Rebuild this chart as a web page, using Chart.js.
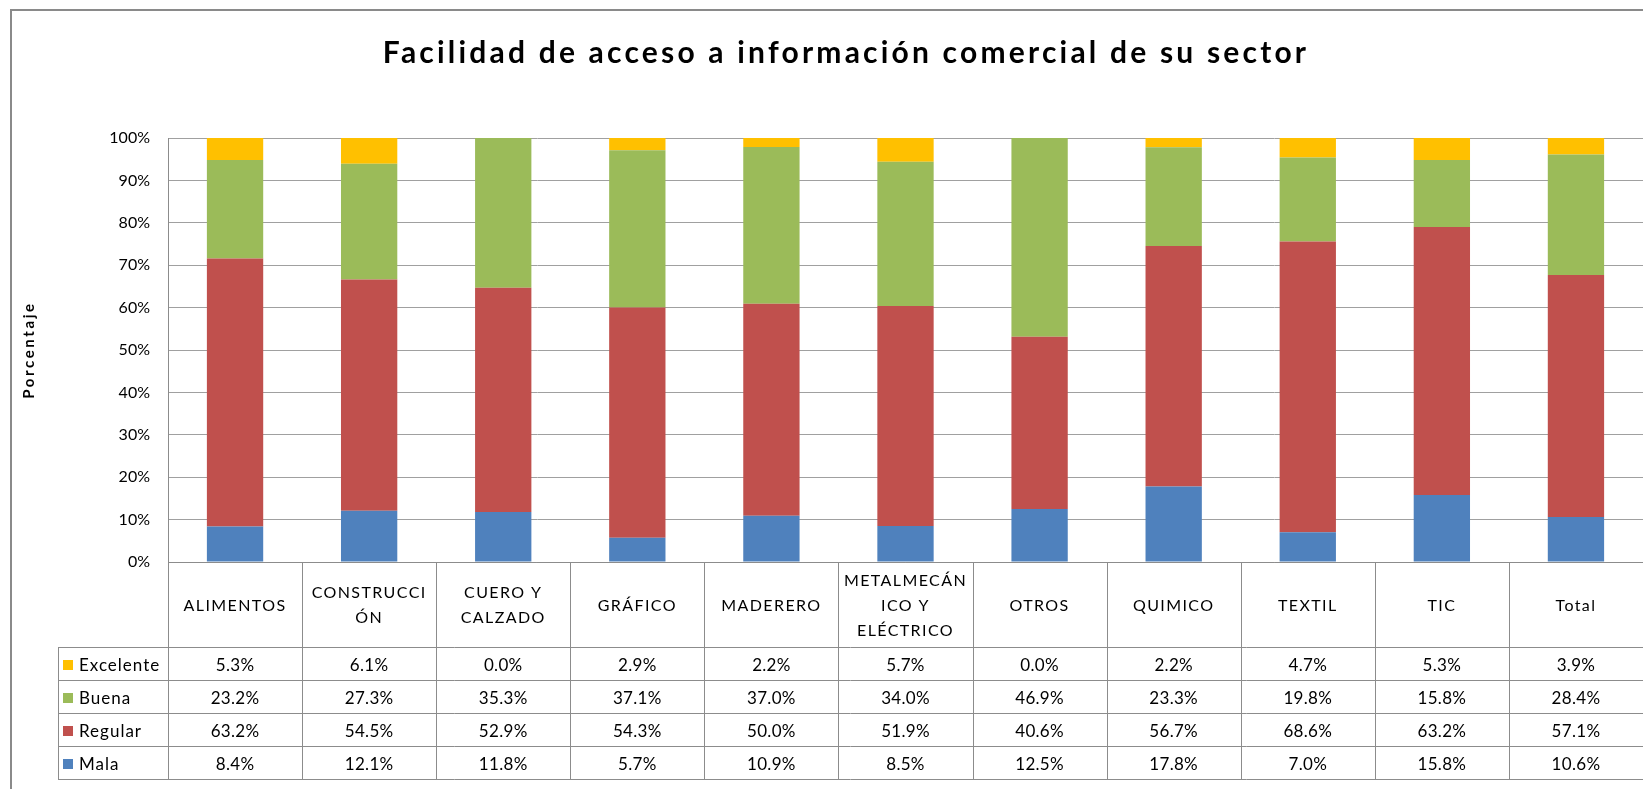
<!DOCTYPE html>
<html>
<head>
<meta charset="utf-8">
<script src="https://cdn.jsdelivr.net/npm/chart.js@4.4.1/dist/chart.umd.min.js"></script>
<style>
  html, body { margin: 0; padding: 0; background: #fff; }
  #wrap { position: relative; width: 1643px; height: 789px; }
</style>
</head>
<body>
<div id="wrap"><canvas id="sectorChart" width="1643" height="789"></canvas></div>
<script>
const chartTitle = 'Facilidad de acceso a información comercial de su sector';
const yAxisTitle = 'Porcentaje';

// category labels, wrapped the way the data table shows them
const categories = [
    ['ALIMENTOS'], ['CONSTRUCCI', 'ÓN'], ['CUERO Y', 'CALZADO'], ['GRÁFICO'], ['MADERERO'],
    ['METALMECÁN', 'ICO Y', 'ELÉCTRICO'], ['OTROS'], ['QUIMICO'], ['TEXTIL'], ['TIC'], ['Total']
];

const mala      = [8.4, 12.1, 11.8, 5.7, 10.9, 8.5, 12.5, 17.8, 7.0, 15.8, 10.6];
const regular   = [63.2, 54.5, 52.9, 54.3, 50.0, 51.9, 40.6, 56.7, 68.6, 63.2, 57.1];
const buena     = [23.2, 27.3, 35.3, 37.1, 37.0, 34.0, 46.9, 23.3, 19.8, 15.8, 28.4];
const excelente = [5.3, 6.1, 0.0, 2.9, 2.2, 5.7, 0.0, 2.2, 4.7, 5.3, 3.9];

const yTicks = [0, 10, 20, 30, 40, 50, 60, 70, 80, 90, 100];

const lineColor = '#8c8c8c';
const font = 'Lato';

// title, axis title, frame and the data table under the plot
const tablePlugin = {
    id: 'excelTable',
    afterDraw(chart) {
        const ctx = chart.ctx;
        const area = chart.chartArea;
        const x = chart.scales.x;
        const n = categories.length;
        const colW = x.getPixelForValue(1) - x.getPixelForValue(0);
        const headerH = 85;
        const rowH = 33;
        const keyLeft = 58;
        const rows = chart.data.datasets.slice().reverse();
        const headerBottom = area.bottom + headerH;
        const tableBottom = headerBottom + rowH * rows.length;

        ctx.save();

        // outer frame of the chart object
        ctx.strokeStyle = '#8a8a8a';
        ctx.lineWidth = 2;
        ctx.beginPath();
        ctx.moveTo(11, chart.height);
        ctx.lineTo(11, 10);
        ctx.lineTo(chart.width, 10);
        ctx.stroke();

        // title
        ctx.fillStyle = '#000';
        ctx.font = 'bold 30px ' + font;
        ctx.letterSpacing = '3.2px';
        ctx.textAlign = 'center';
        ctx.textBaseline = 'alphabetic';
        ctx.fillText(chartTitle, 846, 63);

        // y axis title
        ctx.save();
        ctx.translate(29, (area.top + area.bottom) / 2);
        ctx.rotate(-Math.PI / 2);
        ctx.font = 'bold 15px ' + font;
        ctx.letterSpacing = '2.6px';
        ctx.textBaseline = 'middle';
        ctx.fillText(yAxisTitle, 0, 0);
        ctx.restore();

        // table grid
        ctx.strokeStyle = lineColor;
        ctx.lineWidth = 1;
        ctx.beginPath();
        for (let i = 0; i <= n; i++) {
            const cx = Math.round(area.left + i * colW) + 0.5;
            ctx.moveTo(cx, area.bottom);
            ctx.lineTo(cx, tableBottom);
        }
        ctx.moveTo(keyLeft + 0.5, headerBottom);
        ctx.lineTo(keyLeft + 0.5, tableBottom);
        for (let r = 0; r <= rows.length; r++) {
            const ry = Math.round(headerBottom + r * rowH) + 0.5;
            ctx.moveTo(keyLeft, ry);
            ctx.lineTo(area.right, ry);
        }
        ctx.moveTo(area.left, area.bottom + 0.5);
        ctx.lineTo(area.right, area.bottom + 0.5);
        ctx.stroke();

        // header labels
        ctx.fillStyle = '#000';
        ctx.textAlign = 'center';
        ctx.textBaseline = 'middle';
        ctx.font = '16px ' + font;
        ctx.letterSpacing = '1.4px';
        const midH = area.bottom + headerH / 2 + 1;
        categories.forEach((lines, i) => {
            const cx = x.getPixelForValue(i);
            const lh = 25;
            lines.forEach((t, k) => {
                ctx.fillText(t, cx, midH + (k - (lines.length - 1) / 2) * lh);
            });
        });

        // rows: legend key + values
        rows.forEach((ds, r) => {
            const cy = headerBottom + r * rowH + rowH / 2 + 2;
            ctx.fillStyle = ds.backgroundColor;
            ctx.fillRect(63, Math.round(cy - 6), 10, 10);
            ctx.fillStyle = '#000';
            ctx.textAlign = 'left';
            ctx.font = '17px ' + font;
            ctx.letterSpacing = '1px';
            ctx.fillText(ds.label, 79, cy);
            ctx.textAlign = 'center';
            ctx.font = '17px ' + font;
            ctx.letterSpacing = '0.3px';
            ds.data.forEach((v, i) => {
                ctx.fillText(v.toFixed(1) + '%', x.getPixelForValue(i), cy);
            });
        });

        ctx.restore();
    }
};

const ctx = document.getElementById('sectorChart').getContext('2d');

const sectorChart = new Chart(ctx, {
    type: 'bar',
    data: {
        labels: categories,
        datasets: [
            { label: 'Mala', data: mala, backgroundColor: '#4F81BD' },
            { label: 'Regular', data: regular, backgroundColor: '#C0504D' },
            { label: 'Buena', data: buena, backgroundColor: '#9BBB59' },
            { label: 'Excelente', data: excelente, backgroundColor: '#FFC000' }
        ]
    },
    options: {
        responsive: false,
        animation: false,
        layout: { padding: { top: 138, bottom: 227, left: 0, right: 0 } },
        datasets: {
            bar: { categoryPercentage: 1, barPercentage: 0.42, borderWidth: 0 }
        },
        plugins: {
            legend: { display: false },
            title: { display: false },
            tooltip: { enabled: false }
        },
        scales: {
            x: {
                stacked: true,
                display: false
            },
            y: {
                stacked: true,
                min: yTicks[0],
                max: yTicks[yTicks.length - 1],
                afterBuildTicks(scale) {
                    scale.ticks = yTicks.map(v => ({ value: v }));
                },
                afterFit(scale) { scale.width = 168; },
                grid: { color: '#a0a0a0', drawTicks: false },
                border: { display: true, color: lineColor },
                ticks: {
                    padding: 18,
                    color: '#000',
                    font: { family: font, size: 16 },
                    callback: v => v + '%'
                }
            }
        }
    },
    plugins: [tablePlugin]
});
</script>
</body>
</html>
